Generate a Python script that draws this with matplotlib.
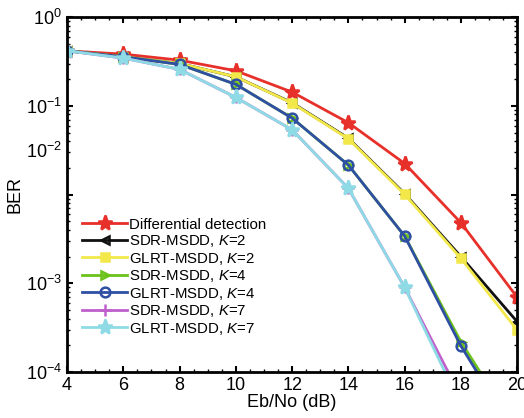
import matplotlib
matplotlib.use('Agg')
import matplotlib.pyplot as plt
from matplotlib.ticker import MultipleLocator, LogLocator, NullFormatter
import numpy as np

plt.rcParams['font.family'] = ['Liberation Sans', 'DejaVu Sans']
plt.rcParams['mathtext.fontset'] = 'custom'
plt.rcParams['mathtext.it'] = 'Liberation Sans:italic'
plt.rcParams['mathtext.rm'] = 'Liberation Sans'

# Eb/No (dB)
snr = [4, 6, 8, 10, 12, 14, 16, 18, 20]

# log10(BER)
diff_det = [-0.38, -0.417, -0.485, -0.605, -0.845, -1.19, -1.65, -2.318, -3.158]
sdr_k2 = [-0.38, -0.447, -0.522, -0.673, -0.965, -1.365, -1.99, -2.70, -3.433]
glrt_k2 = [-0.38, -0.447, -0.522, -0.673, -0.969, -1.371, -1.998, -2.719, -3.527]
sdr_k4 = [-0.38, -0.447, -0.533, -0.758, -1.138, -1.668, -2.468, -3.66, -4.66]
glrt_k4 = [-0.38, -0.447, -0.533, -0.758, -1.138, -1.668, -2.468, -3.707, -4.73]
sdr_k7 = [-0.38, -0.462, -0.589, -0.905, -1.27, -1.93, -3.046, -4.28]
glrt_k7 = [-0.38, -0.462, -0.589, -0.905, -1.27, -1.93, -3.046, -4.38]

series = [
    ('Differential detection', diff_det, '#e8302a', '*', 11),
    ('SDR-MSDD, $K$=2', sdr_k2, '#111111', '<', 6),
    ('GLRT-MSDD, $K$=2', glrt_k2, '#f2e84a', 's', 6),
    ('SDR-MSDD, $K$=4', sdr_k4, '#6cc21a', '>', 6),
    ('GLRT-MSDD, $K$=4', glrt_k4, '#2e4fa3', 'o', 7),
    ('SDR-MSDD, $K$=7', sdr_k7, '#c060cc', '+', 8),
    ('GLRT-MSDD, $K$=7', glrt_k7, '#8edbe6', '*', 11),
]

fig = plt.figure(figsize=(5.24, 4.18), dpi=100)
ax = fig.add_axes([0.128, 0.110, 0.859, 0.849])

for label, vals, color, marker, ms in series:
    y = 10 ** np.array(vals)
    ax.plot(snr[:len(y)], y, color=color, marker=marker, markersize=ms,
            linewidth=2, markerfacecolor='none' if marker in ('<', '>', 'o') else color,
            markeredgewidth=1.8, label=label)

ax.set_yscale('log')
ax.set_xlim(4, 20)
ax.set_ylim(1e-4, 1)
ax.set_yticks([1e-4, 1e-3, 1e-2, 1e-1, 1])
ax.set_yticklabels(['$10^{-4}$', '$10^{-3}$', '', '$10^{-1}$', '$10^{0}$'])
ax.yaxis.set_minor_locator(LogLocator(base=10, subs=np.arange(2, 10)))
ax.yaxis.set_minor_formatter(NullFormatter())
# misplaced 10^-2 label, as in the original figure
ax.text(-0.012, 10 ** -1.52, '$10^{-2}$', transform=ax.get_yaxis_transform(),
        ha='right', va='center', fontsize=13)
ax.set_xticks([4, 6, 8, 10, 12, 14, 16, 18, 20])
ax.xaxis.set_minor_locator(MultipleLocator(0.5))

ax.tick_params(which='both', direction='in', top=True, right=True, labelsize=13)
ax.tick_params(which='major', length=4, width=1.5)
ax.tick_params(which='minor', length=2, width=1)
for sp in ax.spines.values():
    sp.set_linewidth(2)

ax.set_xlabel('Eb/No (dB)', fontsize=13, labelpad=0)
ax.set_ylabel('BER', fontsize=13, labelpad=2)

ax.legend(loc='lower left', bbox_to_anchor=(0.01, 0.07), frameon=False, fontsize=10.8,
          handlelength=3, handletextpad=0.1, labelspacing=0.1, borderaxespad=0.3)

fig.savefig('out.png', dpi=100)
